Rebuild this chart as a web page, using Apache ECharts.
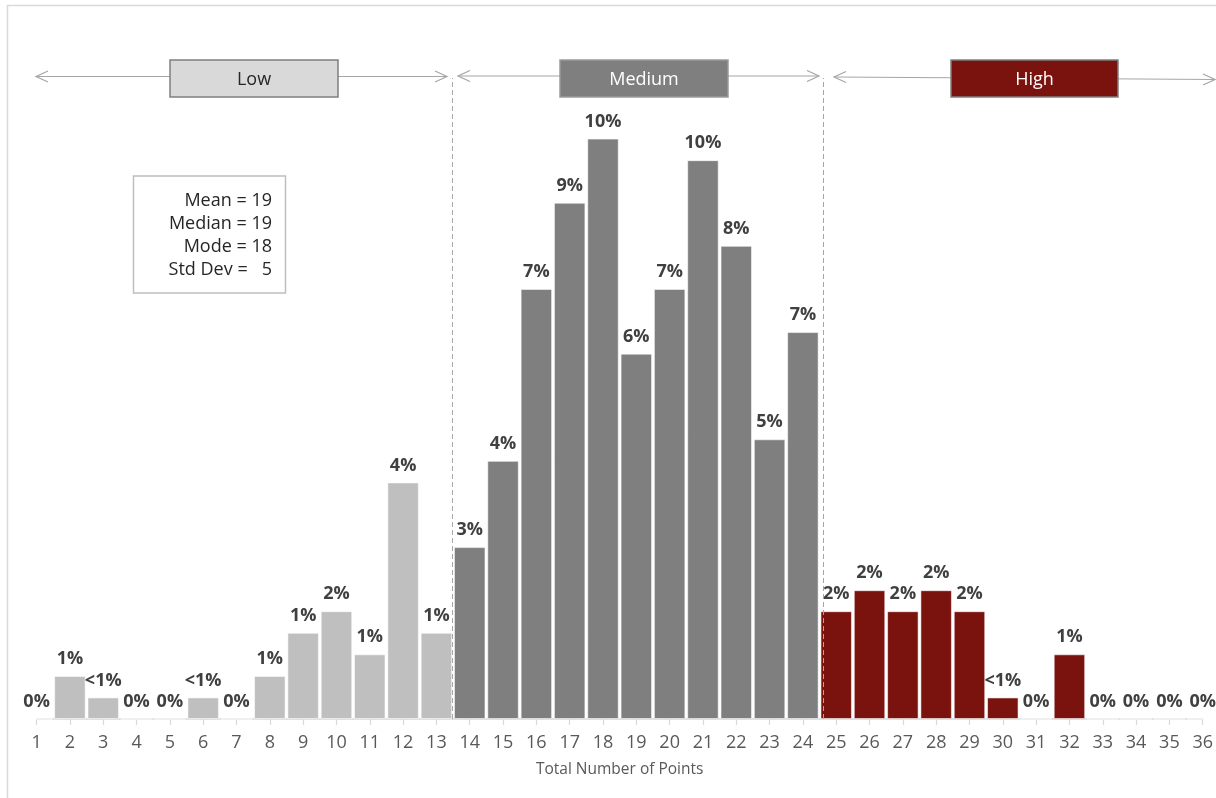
<!DOCTYPE html>
<html>
<head>
<meta charset="utf-8">
<script src="https://cdn.jsdelivr.net/npm/echarts@6/dist/echarts.min.js"></script>
<style>
  html, body { margin: 0; padding: 0; background: #ffffff; }
  #chart { width: 1216px; height: 798px; }
</style>
</head>
<body>
<div id="chart"></div>
<script>
// Points scored (1..36) and the share of respondents at each score, in percent
const points = [1,2,3,4,5,6,7,8,9,10,11,12,13,14,15,16,17,18,19,20,21,22,23,24,25,26,27,28,29,30,31,32,33,34,35,36];
const share = [0, 0.74, 0.37, 0, 0, 0.37, 0, 0.74, 1.48, 1.85, 1.11, 4.06, 1.48,
               2.95, 4.43, 7.38, 8.86, 9.96, 6.27, 7.38, 9.59, 8.12, 4.80, 6.64,
               1.85, 2.21, 1.85, 2.21, 1.85, 0.37, 0, 1.11, 0, 0, 0, 0];

// Score bands: last score of Low and of Medium
const lowMax = 13;
const mediumMax = 24;
const bandNames = ['Low', 'Medium', 'High'];
const bandColors = ['#bfbfbf', '#7f7f7f', '#7a130e'];
// Band dividers sit between the last score of a band and the first of the next
const dividers = [13.47, 24.6];

const statLines = ['Mean = 19', 'Median = 19', 'Mode = 18', 'Std Dev =   5'];

const FONT = '"Open Sans", "Noto Sans", sans-serif';

function bandOf(p) {
  return p <= lowMax ? 0 : (p <= mediumMax ? 1 : 2);
}

function pctLabel(v) {
  if (v === 0) return '0%';
  if (v < 0.5) return '<1%';
  return Math.round(v) + '%';
}

const barData = points.map((p, i) => ({
  value: [p, share[i]],
  itemStyle: { color: bandColors[bandOf(p)] }
}));

// Range arrow with open heads at both ends
function rangeArrow(x1, y1, x2, y2) {
  const L = 12, H = 5.5;
  const s = { stroke: '#a6a6a6', lineWidth: 1.2, fill: null };
  return [
    { type: 'line', shape: { x1: x1, y1: y1, x2: x2, y2: y2 }, style: s, z: 10 },
    { type: 'polyline', shape: { points: [[x1 + L, y1 - H], [x1, y1], [x1 + L, y1 + H]] }, style: s, z: 10 },
    { type: 'polyline', shape: { points: [[x2 - L, y2 - H], [x2, y2], [x2 - L, y2 + H]] }, style: s, z: 10 }
  ];
}

// Band title box: filled rectangle plus centred caption
function bandBox(x, y, w, h, fill, stroke, text, textColor) {
  return [
    { type: 'rect',
      shape: { x: x, y: y, width: w, height: h },
      style: { fill: fill, stroke: stroke, lineWidth: 1.5 },
      z: 11 },
    { type: 'text',
      x: x + w / 2, y: y + h / 2 + 1,
      style: { text: text, fill: textColor, font: '18px ' + FONT,
               textAlign: 'center', textVerticalAlign: 'middle' },
      z: 12 }
  ];
}

const graphics = [].concat(
  // outer frame
  [{ type: 'rect', shape: { x: 7.5, y: 5.5, width: 1230, height: 810 },
     style: { fill: null, stroke: '#d9d9d9', lineWidth: 1.5 }, z: 0 }],
  rangeArrow(36, 76.5, 447, 76.5),
  rangeArrow(458, 76, 819, 76),
  rangeArrow(834, 77, 1215, 79.5),
  bandBox(170, 60, 168, 37, '#d9d9d9', '#7f7f7f', bandNames[0], '#262626'),
  bandBox(560, 60, 168, 37, '#7f7f7f', '#9a9a9a', bandNames[1], '#ffffff'),
  bandBox(951, 60, 167, 37, bandColors[2], '#7f7f7f', bandNames[2], '#ffffff'),
  // summary statistics box
  [{ type: 'rect', shape: { x: 133.5, y: 176, width: 152, height: 117 },
     style: { fill: '#ffffff', stroke: '#bfbfbf', lineWidth: 1.5 }, z: 12 }],
  statLines.map((t, i) => ({
    type: 'text',
    x: 272, y: 201 + i * 23,
    style: { text: t, fill: '#262626', font: '18px ' + FONT,
             textAlign: 'right', textVerticalAlign: 'middle' },
    z: 13
  }))
);

const chart = echarts.init(document.getElementById('chart'), null, { renderer: 'canvas' });

chart.setOption({
  backgroundColor: '#ffffff',
  animation: false,
  grid: { left: 36.6, top: 78, width: 1169.7, height: 641 },
  xAxis: {
    type: 'value',
    min: 1, max: 36, interval: 1,
    splitLine: { show: false },
    axisLine: { show: true, lineStyle: { color: '#d9d9d9', width: 1.5 } },
    axisTick: { show: true, length: 6, lineStyle: { color: '#d9d9d9', width: 1.2 } },
    axisLabel: { color: '#595959', fontSize: 18, fontFamily: FONT, margin: 15,
                 showMinLabel: true, showMaxLabel: true },
    name: 'Total Number of Points',
    nameLocation: 'middle',
    nameGap: 43,
    nameTextStyle: { color: '#595959', fontSize: 15.5, fontFamily: FONT }
  },
  yAxis: {
    type: 'value', min: 0, max: 11, show: false,
    splitLine: { show: false }
  },
  series: [{
    type: 'bar',
    data: barData,
    barWidth: 31.5,
    clip: false,
    itemStyle: { borderColor: 'rgba(255,255,255,0.55)', borderWidth: 1 },
    label: {
      show: true,
      position: 'top',
      distance: 8,
      color: '#404040',
      fontSize: 18,
      fontWeight: 'bold',
      fontFamily: FONT,
      formatter: (p) => pctLabel(p.value[1])
    },
    markLine: {
      silent: true,
      symbol: ['none', 'none'],
      label: { show: false },
      lineStyle: { color: '#a6a6a6', type: [5, 3], width: 1 },
      data: dividers.map(d => ({ xAxis: d }))
    }
  }],
  graphic: graphics
});
</script>
</body>
</html>
